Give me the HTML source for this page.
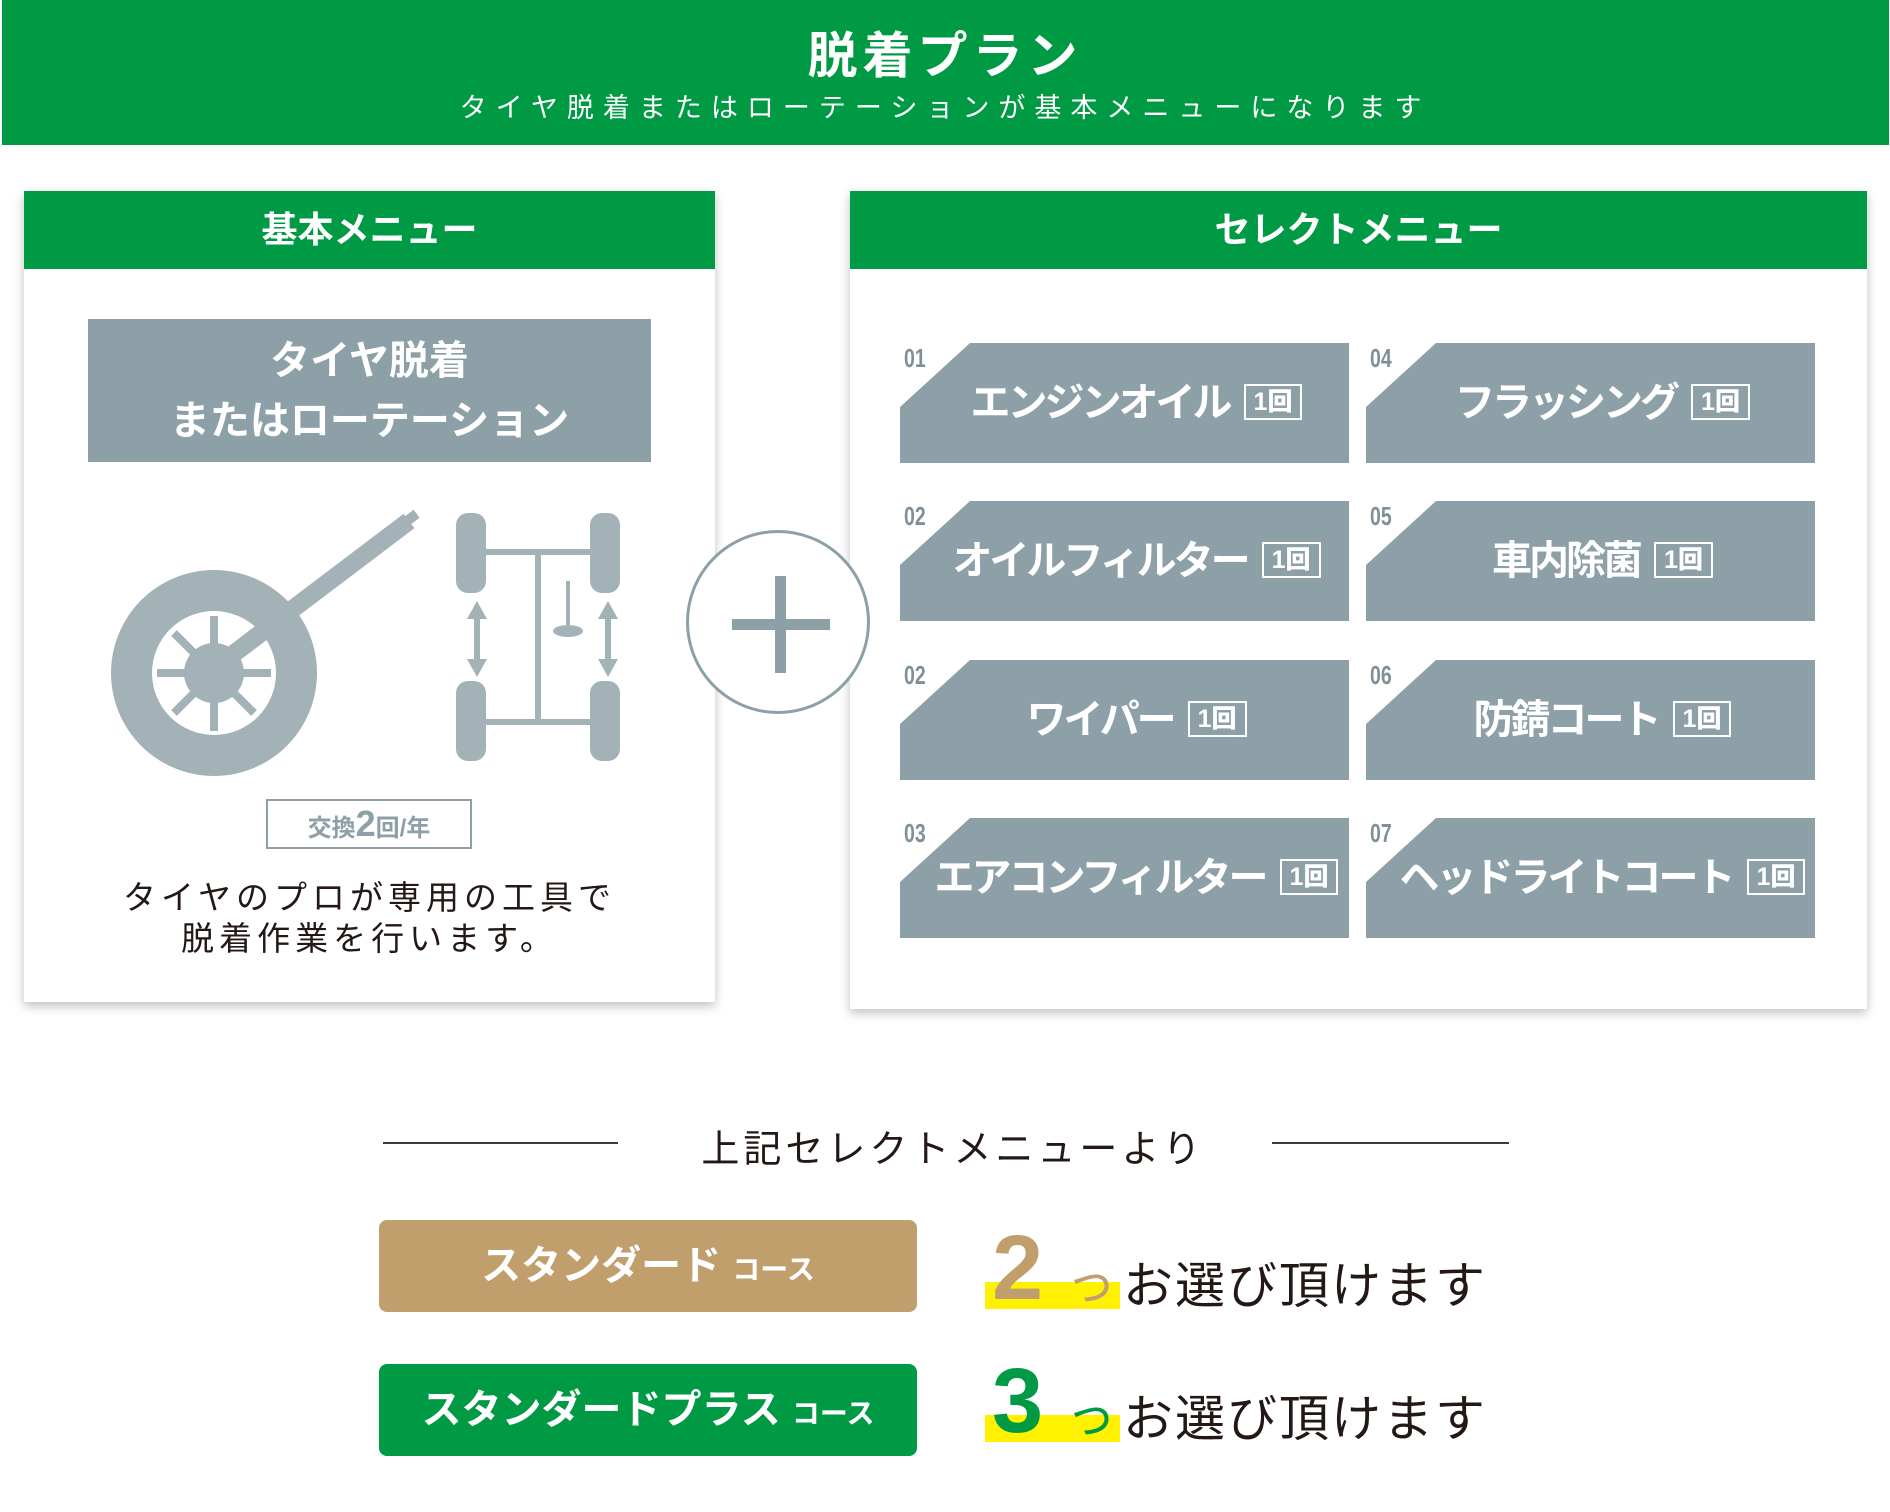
<!DOCTYPE html>
<html><head><meta charset="utf-8"><style>
body{margin:0;width:1890px;height:1512px;background:#fff;position:relative;overflow:hidden;font-family:"Liberation Sans","Noto Sans CJK JP",sans-serif}
.a{position:absolute}
.c{text-align:center}
.card{position:absolute;background:#fff;box-shadow:0 4px 10px rgba(0,0,0,.25)}
.hd{position:absolute;left:0;right:0;top:0;height:78px;background:#009a44;color:#fff;font-weight:bold;font-size:36px;line-height:78px;text-align:center}
.it{position:absolute;width:449px;height:120px;background:#8da0a8;clip-path:polygon(70px 0,100% 0,100% 100%,0 100%,0 64px);color:#fff;font-weight:bold;font-size:40px;letter-spacing:-3px;line-height:120px;text-align:center;padding-left:24px;box-sizing:border-box;white-space:nowrap}
.it b{display:inline-block;border:2px solid #fff;font-size:25px;letter-spacing:0;line-height:32px;padding:0 8px;vertical-align:middle;margin-left:14px;margin-top:-6px}
.n{position:absolute;font-size:26px;color:#7f9097;font-family:"Liberation Sans Narrow","Liberation Sans",sans-serif;font-weight:bold;transform:scaleX(.75);transform-origin:left}
.btn{position:absolute;left:379px;width:538px;height:92px;border-radius:8px;color:#fff;font-weight:bold;font-size:40px;line-height:92px;text-align:center}
.sel{position:absolute;font-size:50px;color:#231815;letter-spacing:2px}
.hl{position:absolute;background:#fff100;width:135px;height:27px}
.num{position:absolute;font-size:92px;font-weight:bold;line-height:1}
.tu{position:absolute;font-size:50px;line-height:1}
</style></head><body>
<div class="a" style="left:2px;top:0;width:1887px;height:145px;background:#009a44"></div>
<div class="a c" style="left:0;width:1890px;top:16px;font-size:50px;font-weight:bold;color:#fff;letter-spacing:5px">脱着プラン</div>
<div class="a c" style="left:0;width:1890px;top:86px;font-size:27px;color:#fff;letter-spacing:9px">タイヤ脱着またはローテーションが基本メニューになります</div>

<div class="card" style="left:24px;top:191px;width:691px;height:811px">
<div class="hd">基本メニュー</div>
<div class="a c" style="left:64px;top:128px;width:563px;height:143px;background:#8da0a8;color:#fff;font-weight:bold;font-size:40px;line-height:60px;padding-top:12px;box-sizing:border-box">タイヤ脱着<br>またはローテーション</div>
<svg class="a" style="left:0;top:0" width="691" height="811">
<g fill="#a3b2b7">
<circle cx="190" cy="482" r="103"/>
<circle cx="190" cy="482" r="62" fill="#fff"/>
<g stroke="#a3b2b7" stroke-width="8"><line x1="190" y1="425" x2="190" y2="540"/><line x1="133" y1="482" x2="247" y2="482"/><line x1="150" y1="442" x2="230" y2="522"/><line x1="230" y1="442" x2="150" y2="522"/></g>
<circle cx="190" cy="482" r="30"/>
<line x1="200" y1="470" x2="385" y2="330" stroke="#a3b2b7" stroke-width="18"/>
<rect x="380" y="322" width="14" height="10" transform="rotate(-37 387 327)"/>
<rect x="432" y="322" width="30" height="80" rx="12"/><rect x="566" y="322" width="30" height="80" rx="12"/>
<rect x="432" y="490" width="30" height="80" rx="12"/><rect x="566" y="490" width="30" height="80" rx="12"/>
<rect x="462" y="358" width="104" height="6"/><rect x="462" y="528" width="104" height="6"/>
<rect x="511" y="358" width="6" height="176"/>
<polygon points="453,410 443,428 463,428"/><rect x="450" y="428" width="6" height="40"/><polygon points="453,486 443,468 463,468"/>
<polygon points="584,410 574,428 594,428"/><rect x="581" y="428" width="6" height="40"/><polygon points="584,486 574,468 594,468"/>
<ellipse cx="544" cy="440" rx="15" ry="6"/><rect x="542" y="390" width="4" height="50"/>
</g>
</svg>
<div class="a c" style="left:242px;top:608px;width:202px;height:46px;border:2px solid #8da0a8;color:#8da0a8;font-weight:bold;font-size:24px;line-height:46px">交換<span style="font-size:36px">2</span>回/年</div>
<div class="a c" style="left:0;width:691px;top:686px;font-size:33px;line-height:41px;color:#231815;letter-spacing:5px">タイヤのプロが専用の工具で<br>脱着作業を行います。</div>
</div>

<div class="card" style="left:850px;top:191px;width:1017px;height:818px">
<div class="hd">セレクトメニュー</div>
</div>

<div class="a" style="left:686px;top:530px;width:184px;height:184px;border:3px solid #8da0a8;border-radius:50%;background:#fff;box-sizing:border-box"></div>
<div class="a" style="left:732px;top:619px;width:98px;height:11px;background:#8da0a8"></div>
<div class="a" style="left:775px;top:576px;width:11px;height:97px;background:#8da0a8"></div>

<div class="it" style="left:900px;top:343px">エンジンオイル<b>1回</b></div>
<div class="it" style="left:900px;top:501px">オイルフィルター<b>1回</b></div>
<div class="it" style="left:900px;top:660px">ワイパー<b>1回</b></div>
<div class="it" style="left:900px;top:818px">エアコンフィルター<b>1回</b></div>
<div class="it" style="left:1366px;top:343px">フラッシング<b>1回</b></div>
<div class="it" style="left:1366px;top:501px">車内除菌<b>1回</b></div>
<div class="it" style="left:1366px;top:660px">防錆コート<b>1回</b></div>
<div class="it" style="left:1366px;top:818px">ヘッドライトコート<b>1回</b></div>
<div class="n" style="left:904px;top:343px">01</div>
<div class="n" style="left:904px;top:501px">02</div>
<div class="n" style="left:904px;top:660px">02</div>
<div class="n" style="left:904px;top:818px">03</div>
<div class="n" style="left:1370px;top:343px">04</div>
<div class="n" style="left:1370px;top:501px">05</div>
<div class="n" style="left:1370px;top:660px">06</div>
<div class="n" style="left:1370px;top:818px">07</div>

<div class="a" style="left:383px;top:1142px;width:235px;height:2px;background:#3e3a39"></div>
<div class="a" style="left:1272px;top:1142px;width:237px;height:2px;background:#3e3a39"></div>
<div class="a c" style="left:640px;width:626px;top:1118px;font-size:38px;color:#231815;letter-spacing:4px">上記セレクトメニューより</div>

<div class="btn" style="top:1220px;background:#c09f6d">スタンダード <span style="font-size:28px">コース</span></div>
<div class="btn" style="top:1364px;background:#009a44">スタンダードプラス <span style="font-size:28px">コース</span></div>

<div class="hl" style="left:985px;top:1282px"></div>
<div class="num" style="left:992px;top:1222px;color:#c09f6d">2</div>
<div class="tu" style="left:1066px;top:1258px;color:#c09f6d">っ</div>
<div class="sel" style="left:1123px;top:1246px">お選び頂けます</div>

<div class="hl" style="left:985px;top:1415px"></div>
<div class="num" style="left:992px;top:1355px;color:#009a44">3</div>
<div class="tu" style="left:1066px;top:1391px;color:#009a44">っ</div>
<div class="sel" style="left:1123px;top:1379px">お選び頂けます</div>
</body></html>
